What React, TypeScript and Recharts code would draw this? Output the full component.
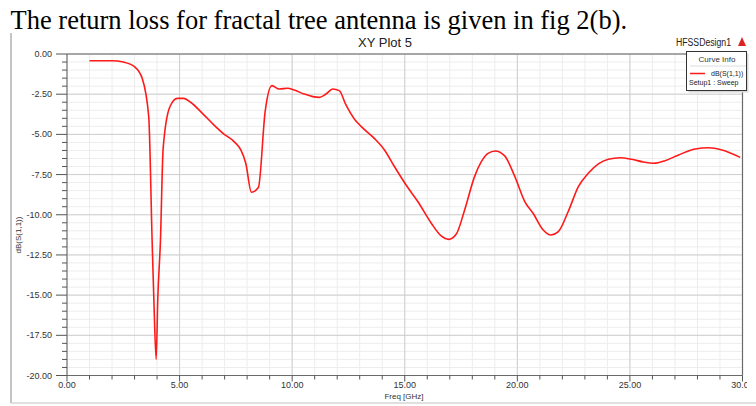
import React from "react";
import { LineChart, Line, XAxis, YAxis, CartesianGrid, ReferenceLine } from "recharts";

const freqGHz = [
  1.0, 2.0, 2.5, 3.0, 3.34, 3.63, 3.78, 3.86, 3.96, 4.03, 4.15, 4.27, 4.57, 4.9, 5.19, 5.49,
  6.08, 6.53, 6.97, 7.42, 7.72, 7.94, 8.19, 8.5, 8.8, 9.1, 9.42, 9.8, 10.09, 10.53, 10.91,
  11.2, 11.5, 11.8, 12.09, 12.39, 12.76, 13.06, 13.65, 14.1, 14.54, 15.06, 15.58, 16.18,
  16.62, 16.95, 17.29, 17.66, 18.1, 18.4, 18.7, 19.02, 19.44, 19.89, 20.33, 20.7, 21.15,
  21.49, 21.82, 22.26, 22.71, 23.15, 23.6, 24.04, 24.56, 25.08, 25.6, 26.05, 26.56, 27.16,
  27.9, 28.5, 29.09, 29.9,
];
const s11dB = [
  -0.42, -0.42, -0.5, -0.79, -1.51, -3.9, -11.6, -15.4, -19.0, -15.3, -11.6, -5.87, -3.28,
  -2.76, -2.76, -3.0, -3.79, -4.42, -4.98, -5.45, -5.97, -6.8, -8.6, -8.31, -3.59, -1.97,
  -2.18, -2.13, -2.24, -2.49, -2.65, -2.7, -2.49, -2.18, -2.28, -3.17, -4.04, -4.5, -5.25,
  -5.97, -7.0, -8.15, -9.18, -10.53, -11.32, -11.53, -11.2, -9.7, -7.63, -6.7, -6.18,
  -6.03, -6.34, -7.63, -9.18, -9.91, -10.95, -11.26, -11.05, -9.8, -8.25, -7.42, -6.84,
  -6.55, -6.45, -6.55, -6.72, -6.8, -6.64, -6.28, -5.91, -5.83, -5.97, -6.43,
];

const xTicks = [
  0, 1, 2, 3, 4, 5, 6, 7, 8, 9, 10, 11, 12, 13, 14, 15, 16, 17, 18, 19, 20, 21, 22, 23, 24,
  25, 26, 27, 28, 29, 30,
];
const xMajor = [0, 5, 10, 15, 20, 25, 30];
const yTicks = [
  -20, -19.5, -19, -18.5, -18, -17.5, -17, -16.5, -16, -15.5, -15, -14.5, -14, -13.5, -13,
  -12.5, -12, -11.5, -11, -10.5, -10, -9.5, -9, -8.5, -8, -7.5, -7, -6.5, -6, -5.5, -5,
  -4.5, -4, -3.5, -3, -2.5, -2, -1.5, -1, -0.5, 0,
];
const yMajor = [-20, -17.5, -15, -12.5, -10, -7.5, -5, -2.5, 0];

const data = freqGHz.map((f, i) => ({ f, v: s11dB[i] }));

const isMajor = (v: number, list: number[]) => list.some((m) => Math.abs(m - v) < 1e-6);

const XTick = (props: any) => {
  const { x, y, payload } = props;
  const v = payload.value;
  const major = isMajor(v, xMajor);
  return (
    <g>
      <line x1={x} x2={x} y1={y} y2={y + (major ? 6 : 4)} stroke="#555" strokeWidth={1} />
      {major && (
        <text
          x={x}
          y={y + 12.8}
          textAnchor="middle"
          fontSize={9}
          fill="#333"
          fontFamily="Liberation Sans, Arial"
          clipPath="url(#xlabclip)"
        >
          {v.toFixed(2)}
        </text>
      )}
    </g>
  );
};

const YTick = (props: any) => {
  const { x, y, payload } = props;
  const v = payload.value;
  const major = isMajor(v, yMajor);
  return (
    <g>
      <line x1={x} x2={x - (major ? 11 : 5)} y1={y} y2={y} stroke="#555" strokeWidth={1} />
      {major && (
        <text x={x - 15} y={y + 3} textAnchor="end" fontSize={9} fill="#333" fontFamily="Liberation Sans, Arial">
          {v.toFixed(2)}
        </text>
      )}
    </g>
  );
};

export default function App() {
  return (
    <div style={{ position: "fixed", left: 0, top: 0, width: 756, height: 406, background: "#fff", overflow: "hidden" }}>
      <div
        style={{
          position: "absolute",
          left: 10.5,
          top: 4.5,
          fontFamily: "'Liberation Serif', 'Times New Roman', serif",
          fontSize: 26.5,
          lineHeight: "normal",
          color: "#000",
          whiteSpace: "nowrap",
        }}
      >
        The return loss for fractal tree antenna is given in fig 2(b).
      </div>
      <svg width={756} height={406} style={{ position: "absolute", left: 0, top: 0 }}>
        <line x1={11} y1={33} x2={11} y2={403} stroke="#b0b0b0" strokeWidth={1.5} />
        <line x1={11} y1={403} x2={756} y2={403} stroke="#d6d6d6" strokeWidth={1.5} />
      </svg>
      <div style={{ position: "absolute", left: 0, top: 0 }}>
        <LineChart width={756} height={406} data={data} margin={{ top: 54, right: 13.5, left: 7, bottom: 0 }}>
          <defs>
            <clipPath id="xlabclip">
              <rect x={0} y={0} width={747} height={406} />
            </clipPath>
          </defs>
          <CartesianGrid stroke="#ededed" strokeWidth={1} />
          {xMajor.map((m) => (
            <ReferenceLine key={"vx" + m} x={m} stroke="#cfcfcf" strokeWidth={1} />
          ))}
          {yMajor.map((m) => (
            <ReferenceLine key={"hy" + m} y={m} stroke="#cfcfcf" strokeWidth={1} />
          ))}
          <ReferenceLine y={0} stroke="#6a6a6a" strokeWidth={1.2} />
          <ReferenceLine x={30} stroke="#6a6a6a" strokeWidth={1.2} />
          <XAxis
            dataKey="f"
            type="number"
            domain={[0, 30]}
            ticks={xTicks}
            interval={0}
            height={30.5}
            tickSize={0}
            tickMargin={0}
            tickLine={false}
            tick={<XTick />}
            stroke="#6a6a6a"
            allowDataOverflow
          />
          <YAxis
            type="number"
            domain={[-20, 0]}
            ticks={yTicks}
            interval={0}
            width={60}
            tickSize={0}
            tickMargin={0}
            tickLine={false}
            tick={<YTick />}
            stroke="#6a6a6a"
            allowDataOverflow
          />
          <Line
            dataKey="v"
            type="monotone"
            stroke="#ff1a1a"
            strokeWidth={1.6}
            dot={false}
            isAnimationActive={false}
          />
        </LineChart>
      </div>
      <svg width={756} height={406} style={{ position: "absolute", left: 0, top: 0, pointerEvents: "none" }}>
        <text x={385} y={47} textAnchor="middle" fontSize={13} fontFamily="Liberation Sans, Arial" fill="#222">
          XY Plot 5
        </text>
        <text x={676} y={46} fontSize={10} fontFamily="Liberation Sans, Arial" fill="#222" textLength={55} lengthAdjust="spacingAndGlyphs">
          HFSSDesign1
        </text>
        <polygon points="742,37 738,46 746,46" fill="#d22" />
        <text x={404} y={398.5} textAnchor="middle" fontSize={8} fontFamily="Liberation Sans, Arial" fill="#333">
          Freq [GHz]
        </text>
        <text
          x={21}
          y={235}
          transform="rotate(-90 21 235)"
          textAnchor="middle"
          fontSize={8}
          fontFamily="Liberation Sans, Arial"
          fill="#333"
        >
          dB(S(1,1))
        </text>
        <rect x={688.5} y={53.5} width={60} height={39} fill="#d8d8d8" />
        <rect x={686.5} y={51.5} width={60} height={39} fill="#fff" stroke="#333" strokeWidth={1} />
        <text x={717} y={62} textAnchor="middle" fontSize={8} fontFamily="Liberation Sans, Arial" fill="#333">
          Curve Info
        </text>
        <line x1={690} y1={66} x2={746} y2={66} stroke="#ddd" />
        <line x1={690} y1={73.5} x2={705} y2={73.5} stroke="#ff1a1a" strokeWidth={1.5} />
        <text x={711} y={76} fontSize={7} fontFamily="Liberation Sans, Arial" fill="#222">
          dB(S(1,1))
        </text>
        <text x={689} y={85} fontSize={7} fontFamily="Liberation Sans, Arial" fill="#222">
          Setup1 : Sweep
        </text>
      </svg>
    </div>
  );
}
